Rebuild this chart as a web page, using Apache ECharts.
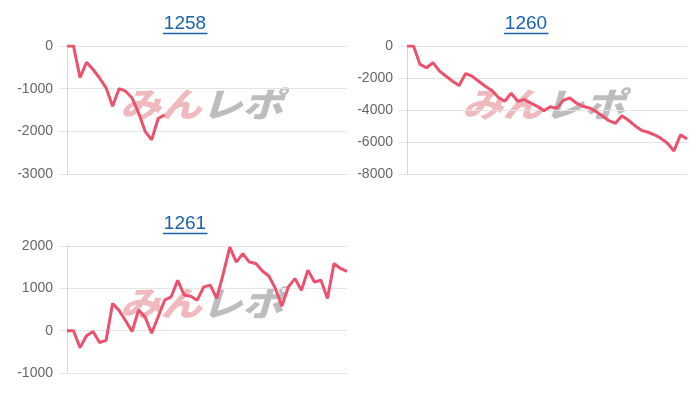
<!DOCTYPE html>
<html><head><meta charset="utf-8">
<script src="https://cdn.jsdelivr.net/npm/echarts@6/dist/echarts.min.js"></script>
<style>html,body{margin:0;padding:0;background:#fff}#c{width:700px;height:400px}</style>
</head><body><div id="c"></div>
<script>
// ---- data ----
const titles = ['1258', '1260', '1261'];
const xLabels = ['1','2','3','4','5','6','7','8','9','10','11','12','13','14','15','16','17','18','19','20','21','22',
  '23','24','25','26','27','28','29','30','31','32','33','34','35','36','37','38','39','40','41','42','43','44'];
const data1258 = [0, 0, -740, -380, -550, -750, -980, -1410, -1000, -1060, -1220, -1570, -2000, -2200, -1700, -1610];
const data1260 = [0, 0, -1150, -1360, -1040, -1570, -1890, -2200, -2470, -1720, -1890, -2200, -2510, -2770, -3200,
  -3450, -2950, -3450, -3350, -3560, -3770, -4050, -3800, -3900, -3400, -3250, -3560, -3770, -3870, -4090,
  -4360, -4670, -4830, -4360, -4640, -4980, -5270, -5390, -5550, -5770, -6080, -6560, -5550, -5820];
const data1261 = [0, 0, -400, -120, -20, -280, -230, 640, 480, 235, -20, 490, 320, -60, 330, 720, 800, 1190, 840,
  815, 720, 1035, 1075, 760, 1350, 1975, 1620, 1820, 1620, 1585, 1410, 1290, 1000, 580, 1035, 1230, 955, 1430,
  1150, 1190, 760, 1585, 1470, 1400];
const yMin = [-3000, -8000, -1000];
const yMax = [0, 0, 2000];
const yStep = [1000, 2000, 1000];
const seriesData = [data1258, data1260, data1261];

// ---- style ----
const lineColor = '#ec526e';
const gridColor = '#e4e4e4';
const titleColor = '#1a62b0';
const grids = [
  {left: 67, top: 46, width: 280, height: 128},
  {left: 407, top: 46, width: 280, height: 128},
  {left: 67, top: 246, width: 280, height: 127}
];
const titlePos = [[185, 14], [526, 14], [185, 214]];

const option = {
  animation: false,
  backgroundColor: '#fff',
  title: titles.map((t, i) => ({
    text: t, left: titlePos[i][0], top: titlePos[i][1], textAlign: 'center', padding: 0,
    textStyle: {color: titleColor, fontSize: 19, fontWeight: 'normal', fontFamily: 'Liberation Sans, Arial, sans-serif'}
  })),
  grid: grids,
  xAxis: grids.map((g, i) => ({
    type: 'category', gridIndex: i, data: xLabels, boundaryGap: false,
    axisLabel: {show: false}, axisTick: {show: false},
    axisLine: {show: true, onZero: false, lineStyle: {color: gridColor}},
    splitLine: {show: false}
  })),
  yAxis: grids.map((g, i) => ({
    type: 'value', gridIndex: i, min: yMin[i], max: yMax[i], interval: yStep[i],
    axisLine: {show: true, lineStyle: {color: '#d6d6d6'}},
    axisTick: {show: true, length: 8, lineStyle: {color: gridColor}},
    splitLine: {show: true, lineStyle: {color: gridColor}},
    axisLabel: {color: '#666', fontSize: 14, margin: 14, fontFamily: 'Liberation Sans, Arial, sans-serif',
      formatter: v => String(v)}
  })),
  graphic: [
    ...[[163, 207.5, 33.5], [504, 548.5, 33.5], [163, 207.5, 233.5]].map(p => ({
      type: 'line', shape: {x1: p[0], y1: p[2], x2: p[1], y2: p[2]},
      style: {stroke: titleColor, lineWidth: 1.3}, silent: true
    })),
    ...[[201.5, 104], [543.5, 104], [201.5, 303]].map(p => ({
      type: 'text', x: p[0], y: p[1], scaleX: 1.2, z: -1, silent: true,
      style: {
        text: '{a|みん}{b|レポ}', align: 'center', verticalAlign: 'middle',
        rich: {
          a: {fontSize: 34, fontWeight: 900, fontStyle: 'italic', fontFamily: 'Noto Sans CJK JP', fill: '#f0b9bd'},
          b: {fontSize: 34, fontWeight: 900, fontStyle: 'italic', fontFamily: 'Noto Sans CJK JP', fill: '#bdbdbd'}
        }
      }
    }))
  ],
  series: seriesData.map((d, i) => ({
    type: 'line', xAxisIndex: i, yAxisIndex: i, data: d, showSymbol: false, z: 5,
    lineStyle: {color: lineColor, width: 3}, itemStyle: {color: lineColor}
  }))
};
const chart = echarts.init(document.getElementById('c'), null, {renderer: 'canvas'});
chart.setOption(option);
</script>
</body></html>
